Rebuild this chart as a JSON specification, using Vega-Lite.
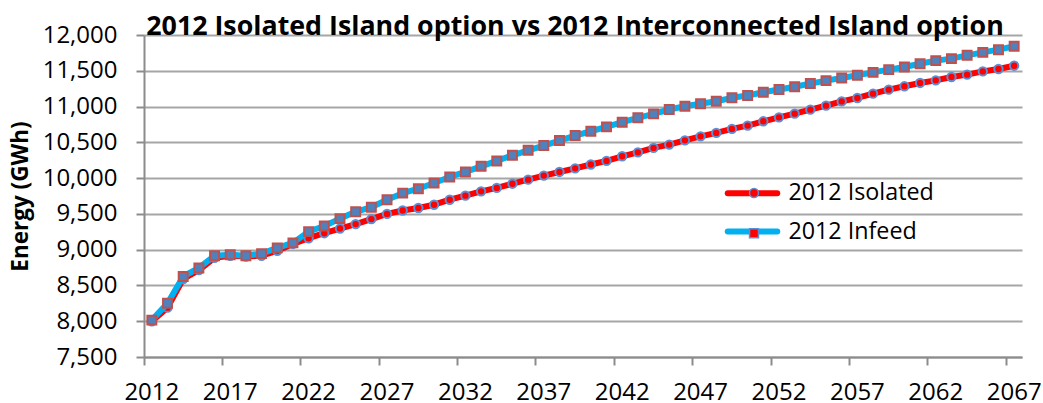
{
  "$schema": "https://vega.github.io/schema/vega-lite/v6.json",
  "autosize": {"type": "none"},
  "width": 878,
  "height": 322,
  "padding": {"left": 144, "top": 35, "right": 21, "bottom": 46},
  "background": "white",
  "config": {
    "font": "Open Sans",
    "view": {"stroke": null},
    "axis": {"labelFont": "Open Sans", "labelFontSize": 24, "labelColor": "#000000", "domainColor": "#8c8c8c", "domainWidth": 2, "tickColor": "#8c8c8c", "tickWidth": 2, "tickSize": 8, "gridColor": "#a6a6a6", "gridWidth": 2, "labelOverlap": false}
  },
  "title": {"text": "2012 Isolated Island option vs 2012 Interconnected Island option", "font": "Open Sans", "fontSize": 26.8, "fontWeight": "bold", "color": "#000000", "anchor": "middle", "baseline": "alphabetic", "offset": -12, "dx": -8, "dy": 27},
  "data": {"values": [
    {"year": 2012, "isolated": 8000, "infeed": 8015},
    {"year": 2013, "isolated": 8190, "infeed": 8250},
    {"year": 2014, "isolated": 8590, "infeed": 8625},
    {"year": 2015, "isolated": 8715, "infeed": 8745},
    {"year": 2016, "isolated": 8885, "infeed": 8915},
    {"year": 2017, "isolated": 8915, "infeed": 8930},
    {"year": 2018, "isolated": 8905, "infeed": 8915},
    {"year": 2019, "isolated": 8915, "infeed": 8945},
    {"year": 2020, "isolated": 8985, "infeed": 9025},
    {"year": 2021, "isolated": 9080, "infeed": 9095},
    {"year": 2022, "isolated": 9160, "infeed": 9252},
    {"year": 2023, "isolated": 9230, "infeed": 9331},
    {"year": 2024, "isolated": 9295, "infeed": 9434},
    {"year": 2025, "isolated": 9357, "infeed": 9529},
    {"year": 2026, "isolated": 9427, "infeed": 9594},
    {"year": 2027, "isolated": 9500, "infeed": 9697},
    {"year": 2028, "isolated": 9547, "infeed": 9790},
    {"year": 2029, "isolated": 9582, "infeed": 9852},
    {"year": 2030, "isolated": 9628, "infeed": 9932},
    {"year": 2031, "isolated": 9698, "infeed": 10016},
    {"year": 2032, "isolated": 9755, "infeed": 10086},
    {"year": 2033, "isolated": 9815, "infeed": 10165},
    {"year": 2034, "isolated": 9863, "infeed": 10240},
    {"year": 2035, "isolated": 9922, "infeed": 10319},
    {"year": 2036, "isolated": 9978, "infeed": 10389},
    {"year": 2037, "isolated": 10035, "infeed": 10455},
    {"year": 2038, "isolated": 10086, "infeed": 10525},
    {"year": 2039, "isolated": 10137, "infeed": 10595},
    {"year": 2040, "isolated": 10190, "infeed": 10655},
    {"year": 2041, "isolated": 10240, "infeed": 10716},
    {"year": 2042, "isolated": 10305, "infeed": 10781},
    {"year": 2043, "isolated": 10360, "infeed": 10843},
    {"year": 2044, "isolated": 10422, "infeed": 10898},
    {"year": 2045, "isolated": 10468, "infeed": 10959},
    {"year": 2046, "isolated": 10528, "infeed": 11005},
    {"year": 2047, "isolated": 10584, "infeed": 11038},
    {"year": 2048, "isolated": 10632, "infeed": 11074},
    {"year": 2049, "isolated": 10688, "infeed": 11122},
    {"year": 2050, "isolated": 10734, "infeed": 11154},
    {"year": 2051, "isolated": 10794, "infeed": 11200},
    {"year": 2052, "isolated": 10849, "infeed": 11238},
    {"year": 2053, "isolated": 10901, "infeed": 11276},
    {"year": 2054, "isolated": 10957, "infeed": 11321},
    {"year": 2055, "isolated": 11013, "infeed": 11362},
    {"year": 2056, "isolated": 11072, "infeed": 11400},
    {"year": 2057, "isolated": 11120, "infeed": 11437},
    {"year": 2058, "isolated": 11180, "infeed": 11478},
    {"year": 2059, "isolated": 11236, "infeed": 11516},
    {"year": 2060, "isolated": 11283, "infeed": 11553},
    {"year": 2061, "isolated": 11330, "infeed": 11599},
    {"year": 2062, "isolated": 11366, "infeed": 11642},
    {"year": 2063, "isolated": 11413, "infeed": 11670},
    {"year": 2064, "isolated": 11446, "infeed": 11716},
    {"year": 2065, "isolated": 11491, "infeed": 11757},
    {"year": 2066, "isolated": 11525, "infeed": 11795},
    {"year": 2067, "isolated": 11571, "infeed": 11842}
  ]},
  "encoding": {
    "x": {
      "field": "year", "type": "ordinal",
      "scale": {"type": "band", "paddingInner": 0, "paddingOuter": 0},
      "axis": {"title": null, "labelAngle": 0, "bandPosition": 0, "values": [2012, 2017, 2022, 2027, 2032, 2037, 2042, 2047, 2052, 2057, 2062, 2067], "grid": false, "labelPadding": 15}
    }
  },
  "layer": [
    {
      "mark": {"type": "line", "strokeWidth": 6, "strokeCap": "round", "strokeJoin": "round"},
      "encoding": {
        "y": {"field": "isolated", "type": "quantitative", "scale": {"domain": [7500, 12000]}, "axis": {"title": "Energy (GWh)", "titleFont": "Open Sans", "titleFontSize": 22.5, "titleFontWeight": "bold", "titleColor": "#000000", "titlePadding": 10, "values": [7500, 8000, 8500, 9000, 9500, 10000, 10500, 11000, 11500, 12000], "format": ",d", "labelPadding": 19}},
        "color": {"datum": "2012 Isolated", "type": "nominal", "scale": {"domain": ["2012 Isolated", "2012 Infeed"], "range": ["#ff0000", "#00b0f0"]},
          "legend": {"title": null, "orient": "none", "legendX": 596, "legendY": 145.7, "symbolType": "M-2.7,0L2.7,0", "symbolSize": 336, "symbolStrokeWidth": 6, "labelFont": "Open Sans", "labelFontSize": 23.3, "labelColor": "#000000", "rowPadding": 13.3, "padding": 0, "labelOffset": 23.4,
            "encode": {"symbols": {"update": {"strokeCap": {"value": "round"}}}}}}
      }
    },
    {
      "mark": {"type": "point", "filled": true, "fill": "#ff0000", "stroke": "#5b8fd6", "strokeWidth": 2, "size": 70, "shape": "circle", "opacity": 1},
      "encoding": {
        "y": {"field": "isolated", "type": "quantitative", "axis": {"title": "Energy (GWh)", "titleFont": "Open Sans", "titleFontSize": 22.5, "titleFontWeight": "bold", "titleColor": "#000000", "titlePadding": 10, "values": [7500, 8000, 8500, 9000, 9500, 10000, 10500, 11000, 11500, 12000], "format": ",d", "labelPadding": 19}},
        "shape": {"datum": "Isolated marker", "type": "nominal", "scale": {"domain": ["Isolated marker", "Infeed marker"], "range": ["circle", "square"]},
          "legend": {"title": null, "orient": "none", "legendX": 604.5, "legendY": 152.5, "symbolSize": 80, "labelExpr": "''", "labelFontSize": 1, "rowPadding": 25.3, "padding": 0,
            "encode": {"symbols": {"update": {"fill": {"signal": "datum.value === 'Isolated marker' ? '#ff0000' : '#4f81bd'"}, "stroke": {"signal": "datum.value === 'Isolated marker' ? '#5b8fd6' : '#c0504d'"}, "strokeWidth": {"value": 2}, "opacity": {"value": 1}}}}}}
      }
    },
    {
      "mark": {"type": "line", "strokeWidth": 6, "strokeCap": "round", "strokeJoin": "round"},
      "encoding": {
        "y": {"field": "infeed", "type": "quantitative", "axis": {"title": "Energy (GWh)", "titleFont": "Open Sans", "titleFontSize": 22.5, "titleFontWeight": "bold", "titleColor": "#000000", "titlePadding": 10, "values": [7500, 8000, 8500, 9000, 9500, 10000, 10500, 11000, 11500, 12000], "format": ",d", "labelPadding": 19}},
        "color": {"datum": "2012 Infeed", "type": "nominal"}
      }
    },
    {
      "mark": {"type": "point", "filled": true, "fill": "#4f81bd", "stroke": "#c0504d", "strokeWidth": 2, "size": 80, "shape": "square", "opacity": 1},
      "encoding": {
        "y": {"field": "infeed", "type": "quantitative", "axis": {"title": "Energy (GWh)", "titleFont": "Open Sans", "titleFontSize": 22.5, "titleFontWeight": "bold", "titleColor": "#000000", "titlePadding": 10, "values": [7500, 8000, 8500, 9000, 9500, 10000, 10500, 11000, 11500, 12000], "format": ",d", "labelPadding": 19}},
        "shape": {"datum": "Infeed marker", "type": "nominal"}
      }
    }
  ]
}
